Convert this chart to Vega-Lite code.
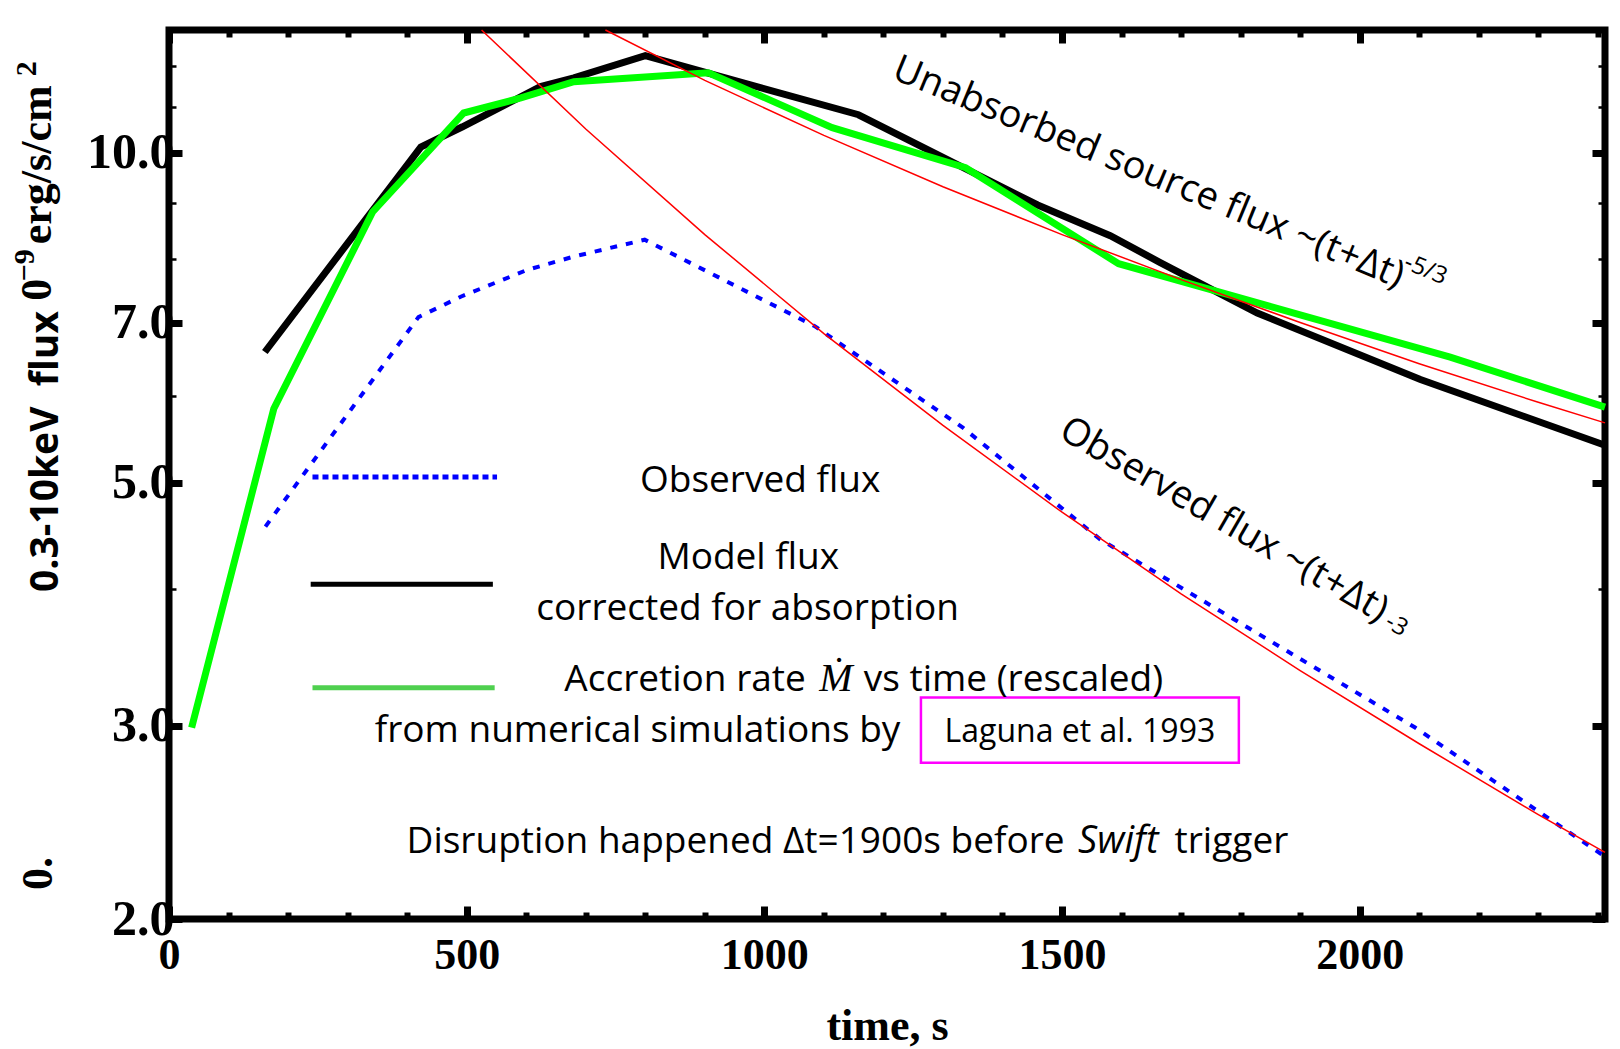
{
  "$schema": "https://vega.github.io/schema/vega-lite/v6.json",
  "autosize": "none",
  "width": 1436,
  "height": 889,
  "padding": {"left": 169, "top": 30, "right": 15, "bottom": 130},
  "background": "white",
  "config": {
    "view": {"stroke": "black", "strokeWidth": 7, "fill": "white"},
    "axis": {"domain": false, "grid": false}
  },
  "datasets": {
    "black": [{"t":161,"F":6.58},{"t":423,"F":10.12},{"t":493,"F":10.56},{"t":624,"F":11.49},{"t":680,"F":11.70},{"t":800,"F":12.26},{"t":1158,"F":10.83},{"t":1459,"F":8.96},{"t":1581,"F":8.40},{"t":1665,"F":7.94},{"t":1828,"F":7.14},{"t":2102,"F":6.21},{"t":2412,"F":5.41}],
    "green": [{"t":38,"F":2.99},{"t":176,"F":5.84},{"t":342,"F":8.83},{"t":495,"F":10.87},{"t":591,"F":11.22},{"t":680,"F":11.61},{"t":906,"F":11.83},{"t":1114,"F":10.54},{"t":1338,"F":9.69},{"t":1595,"F":7.92},{"t":2152,"F":6.51},{"t":2412,"F":5.86}],
    "blue": [{"t":162,"F":4.56},{"t":419,"F":7.08},{"t":490,"F":7.39},{"t":602,"F":7.82},{"t":680,"F":8.04},{"t":799,"F":8.33},{"t":1084,"F":6.95},{"t":1334,"F":5.61},{"t":1564,"F":4.44},{"t":2093,"F":2.99},{"t":2412,"F":2.28}],
    "red53": [{"t":733,"F":12.94},{"t":900,"F":11.64},{"t":1100,"F":10.37},{"t":1300,"F":9.31},{"t":1500,"F":8.42},{"t":1700,"F":7.66},{"t":1900,"F":7.00},{"t":2100,"F":6.42},{"t":2300,"F":5.92},{"t":2412,"F":5.67}],
    "red3": [{"t":525,"F":12.94},{"t":700,"F":10.51},{"t":900,"F":8.42},{"t":1100,"F":6.84},{"t":1300,"F":5.64},{"t":1500,"F":4.70},{"t":1700,"F":3.96},{"t":1900,"F":3.37},{"t":2100,"F":2.89},{"t":2300,"F":2.49},{"t":2412,"F":2.30}],
    "legBlue": [{"t":241,"F":5.06},{"t":551,"F":5.06}],
    "legBlack": [{"t":238,"F":4.04},{"t":544,"F":4.04}],
    "legGreen": [{"t":241,"F":3.25},{"t":547,"F":3.25}],
    "txtCenter": [{"t":993,"F":4.905,"txt":"Observed flux"},{"t":973,"F":4.17,"txt":"Model flux"},{"t":972,"F":3.749,"txt":"corrected for absorption"},{"t":787,"F":2.903,"txt":"from numerical simulations by"}],
    "txtLeft": [{"t":664,"F":3.231,"txt":"Accretion rate"},{"t":1167,"F":3.231,"txt":"vs time (rescaled)"},{"t":399,"F":2.296,"txt":"Disruption happened Δt=1900s before"},{"t":1689,"F":2.296,"txt":"trigger"}],
    "txtMdot": [{"t":1092,"F":3.231,"txt":"Ṁ"}],
    "txtSwift": [{"t":1527,"F":2.296,"txt":"Swift"}],
    "txtLaguna": [{"t":1530,"F":2.903,"txt":"Laguna et al. 1993"}],
    "box": [{"t1":1263,"t2":1797,"F1":2.777,"F2":3.184}],
    "rot1": [{"t":1212,"F":11.70,"txt":"Unabsorbed source flux ~(t+Δt)"}],
    "rot1sup": [{"t":2072,"F":7.85,"txt":"-5/3"}],
    "rot2": [{"t":1492,"F":5.505,"txt":"Observed flux ~(t+Δt)"}],
    "rot2sup": [{"t":2040,"F":3.70,"txt":"-3"}],
    "ySerif": [{"t":-199,"F":7.50,"txt":"0"},{"t":-199,"F":9.749,"txt":"erg/s/cm"},{"t":-196,"F":2.20,"txt":"0."}],
    "ySup": [{"t":-227,"F":7.893,"txt":"−9"},{"t":-223,"F":11.93,"txt":"2"}]
  },
  "resolve": {"scale": {"x": "shared", "y": "shared"}, "axis": {"x": "independent", "y": "independent"}},
  "layer": [
    {
      "data": {"name": "black"},
      "mark": {"type": "line", "color": "black", "strokeWidth": 7},
      "encoding": {
        "x": {"field": "t", "type": "quantitative",
          "scale": {"domain": [0, 2412], "nice": false, "zero": false},
          "axis": {"orient": "bottom", "values": [0, 500, 1000, 1500, 2000], "format": "d",
            "labelFont": "Liberation Serif", "labelFontWeight": "bold", "labelFontSize": 44, "labelColor": "black",
            "labelPadding": 27, "labelFlush": false, "labelOverlap": false,
            "tickSize": -13, "tickWidth": 7, "tickColor": "black",
            "title": "time, s", "titleFont": "Liberation Serif", "titleFontWeight": "bold", "titleFontSize": 44,
            "titleColor": "black", "titleBaseline": "alphabetic", "titleY": 120}},
        "y": {"field": "F", "type": "quantitative",
          "scale": {"type": "log", "domain": [2, 12.94], "nice": false},
          "axis": {"orient": "left", "values": [2, 3, 5, 7, 10], "format": ".1f",
            "labelFont": "Liberation Serif", "labelFontWeight": "bold", "labelFontSize": 50, "labelColor": "black",
            "labelPadding": 8, "labelFlush": false, "labelOverlap": false, "labelLimit": 400,
            "tickSize": -13, "tickWidth": 7, "tickColor": "black",
            "title": "0.3-10keV\u00a0 flux", "titleFont": "Open Sans", "titleFontWeight": "bold", "titleFontSize": 39,
            "titleColor": "black", "titleAngle": 270, "titleAlign": "center", "titleBaseline": "alphabetic",
            "titleX": -112, "titleY": 421}}
      }
    },
    {
      "data": {"name": "green"},
      "mark": {"type": "line", "color": "#00ff00", "strokeWidth": 7},
      "encoding": {
        "x": {"field": "t", "type": "quantitative",
          "axis": {"orient": "top", "values": [0, 500, 1000, 1500, 2000], "labels": false,
            "tickSize": -13, "tickWidth": 7, "tickColor": "black", "title": null}},
        "y": {"field": "F", "type": "quantitative",
          "axis": {"orient": "right", "values": [2, 3, 5, 7, 10], "labels": false,
            "tickSize": -13, "tickWidth": 7, "tickColor": "black", "title": null}}
      }
    },
    {
      "data": {"name": "blue"},
      "mark": {"type": "line", "color": "#0000ff", "strokeWidth": 4, "strokeDash": [7, 9]},
      "encoding": {
        "x": {"field": "t", "type": "quantitative",
          "axis": {"orient": "bottom", "values": [100,200,300,400,600,700,800,900,1100,1200,1300,1400,1600,1700,1800,1900,2100,2200,2300,2400], "labels": false,
            "tickSize": -7, "tickWidth": 6, "tickColor": "black", "title": null}},
        "y": {"field": "F", "type": "quantitative",
          "axis": {"orient": "left", "values": [4, 6, 8, 9, 11, 12], "labels": false,
            "tickSize": -7, "tickWidth": 2.5, "tickColor": "black", "title": null}}
      }
    },
    {
      "data": {"name": "red53"},
      "mark": {"type": "line", "color": "#ff0000", "strokeWidth": 1.5},
      "encoding": {
        "x": {"field": "t", "type": "quantitative",
          "axis": {"orient": "top", "values": [100,200,300,400,600,700,800,900,1100,1200,1300,1400,1600,1700,1800,1900,2100,2200,2300,2400], "labels": false,
            "tickSize": -7, "tickWidth": 6, "tickColor": "black", "title": null}},
        "y": {"field": "F", "type": "quantitative",
          "axis": {"orient": "right", "values": [4, 6, 8, 9, 11, 12], "labels": false,
            "tickSize": -7, "tickWidth": 2.5, "tickColor": "black", "title": null}}
      }
    },
    {
      "data": {"name": "red3"},
      "mark": {"type": "line", "color": "#ff0000", "strokeWidth": 1.5},
      "encoding": {
        "x": {"field": "t", "type": "quantitative", "axis": null},
        "y": {"field": "F", "type": "quantitative", "axis": null}
      }
    },
    {
      "data": {"name": "legBlue"},
      "mark": {"type": "line", "color": "#0000ff", "strokeWidth": 5, "strokeDash": [6, 4]},
      "encoding": {
        "x": {"field": "t", "type": "quantitative", "axis": null},
        "y": {"field": "F", "type": "quantitative", "axis": null}
      }
    },
    {
      "data": {"name": "legBlack"},
      "mark": {"type": "line", "color": "black", "strokeWidth": 5},
      "encoding": {
        "x": {"field": "t", "type": "quantitative", "axis": null},
        "y": {"field": "F", "type": "quantitative", "axis": null}
      }
    },
    {
      "data": {"name": "legGreen"},
      "mark": {"type": "line", "color": "#4fd04f", "strokeWidth": 5},
      "encoding": {
        "x": {"field": "t", "type": "quantitative", "axis": null},
        "y": {"field": "F", "type": "quantitative", "axis": null}
      }
    },
    {
      "data": {"name": "box"},
      "mark": {"type": "rect", "fillOpacity": 0, "stroke": "#ff00ff", "strokeWidth": 2.5},
      "encoding": {
        "x": {"field": "t1", "type": "quantitative", "axis": null},
        "x2": {"field": "t2"},
        "y": {"field": "F1", "type": "quantitative", "axis": null},
        "y2": {"field": "F2"}
      }
    },
    {
      "data": {"name": "txtCenter"},
      "mark": {"type": "text", "font": "Open Sans", "fontSize": 37, "color": "black", "align": "center", "baseline": "alphabetic"},
      "encoding": {
        "x": {"field": "t", "type": "quantitative", "axis": null},
        "y": {"field": "F", "type": "quantitative", "axis": null},
        "text": {"field": "txt"}
      }
    },
    {
      "data": {"name": "txtLeft"},
      "mark": {"type": "text", "font": "Open Sans", "fontSize": 37, "color": "black", "align": "left", "baseline": "alphabetic"},
      "encoding": {
        "x": {"field": "t", "type": "quantitative", "axis": null},
        "y": {"field": "F", "type": "quantitative", "axis": null},
        "text": {"field": "txt"}
      }
    },
    {
      "data": {"name": "txtMdot"},
      "mark": {"type": "text", "font": "Liberation Serif", "fontStyle": "italic", "fontSize": 40, "color": "black", "align": "left", "baseline": "alphabetic"},
      "encoding": {
        "x": {"field": "t", "type": "quantitative", "axis": null},
        "y": {"field": "F", "type": "quantitative", "axis": null},
        "text": {"field": "txt"}
      }
    },
    {
      "data": {"name": "txtSwift"},
      "mark": {"type": "text", "font": "Open Sans", "fontStyle": "italic", "fontSize": 38, "color": "black", "align": "left", "baseline": "alphabetic"},
      "encoding": {
        "x": {"field": "t", "type": "quantitative", "axis": null},
        "y": {"field": "F", "type": "quantitative", "axis": null},
        "text": {"field": "txt"}
      }
    },
    {
      "data": {"name": "txtLaguna"},
      "mark": {"type": "text", "font": "Open Sans", "fontSize": 32, "color": "black", "align": "center", "baseline": "alphabetic"},
      "encoding": {
        "x": {"field": "t", "type": "quantitative", "axis": null},
        "y": {"field": "F", "type": "quantitative", "axis": null},
        "text": {"field": "txt"}
      }
    },
    {
      "data": {"name": "rot1"},
      "mark": {"type": "text", "font": "Open Sans", "fontSize": 38, "color": "black", "align": "left", "baseline": "alphabetic", "angle": 22.5},
      "encoding": {
        "x": {"field": "t", "type": "quantitative", "axis": null},
        "y": {"field": "F", "type": "quantitative", "axis": null},
        "text": {"field": "txt"}
      }
    },
    {
      "data": {"name": "rot1sup"},
      "mark": {"type": "text", "font": "Open Sans", "fontSize": 24, "color": "black", "align": "left", "baseline": "alphabetic", "angle": 22.5},
      "encoding": {
        "x": {"field": "t", "type": "quantitative", "axis": null},
        "y": {"field": "F", "type": "quantitative", "axis": null},
        "text": {"field": "txt"}
      }
    },
    {
      "data": {"name": "rot2"},
      "mark": {"type": "text", "font": "Open Sans", "fontSize": 38, "color": "black", "align": "left", "baseline": "alphabetic", "angle": 30},
      "encoding": {
        "x": {"field": "t", "type": "quantitative", "axis": null},
        "y": {"field": "F", "type": "quantitative", "axis": null},
        "text": {"field": "txt"}
      }
    },
    {
      "data": {"name": "rot2sup"},
      "mark": {"type": "text", "font": "Open Sans", "fontSize": 24, "color": "black", "align": "left", "baseline": "alphabetic", "angle": 30},
      "encoding": {
        "x": {"field": "t", "type": "quantitative", "axis": null},
        "y": {"field": "F", "type": "quantitative", "axis": null},
        "text": {"field": "txt"}
      }
    },
    {
      "data": {"name": "ySerif"},
      "mark": {"type": "text", "font": "Liberation Serif", "fontWeight": "bold", "fontSize": 44, "color": "black", "align": "center", "baseline": "alphabetic", "angle": 270},
      "encoding": {
        "x": {"field": "t", "type": "quantitative", "axis": null},
        "y": {"field": "F", "type": "quantitative", "axis": null},
        "text": {"field": "txt"}
      }
    },
    {
      "data": {"name": "ySup"},
      "mark": {"type": "text", "font": "Liberation Serif", "fontWeight": "bold", "fontSize": 30, "color": "black", "align": "center", "baseline": "alphabetic", "angle": 270},
      "encoding": {
        "x": {"field": "t", "type": "quantitative", "axis": null},
        "y": {"field": "F", "type": "quantitative", "axis": null},
        "text": {"field": "txt"}
      }
    }
  ]
}
